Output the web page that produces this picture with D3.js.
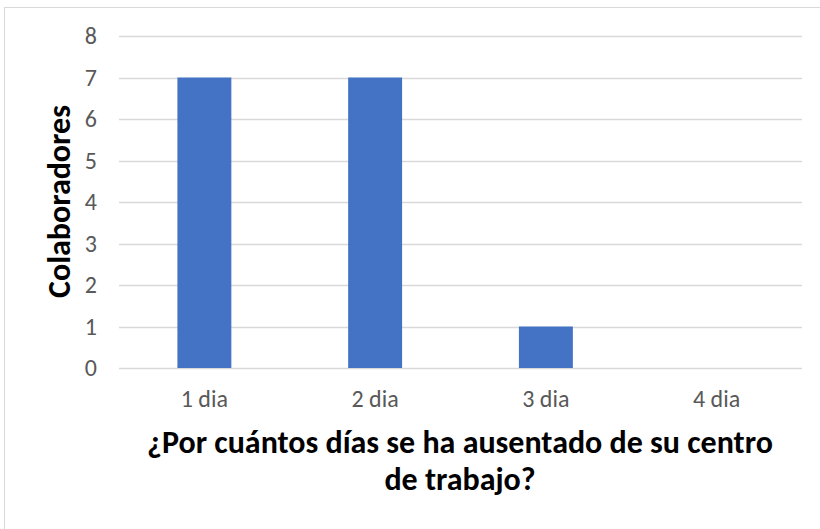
<!DOCTYPE html>
<html>
<head>
<meta charset="utf-8">
<script src="https://cdn.jsdelivr.net/npm/d3@7"></script>
<style>
  body { margin: 0; background: #fff; }
</style>
</head>
<body>
<script>
// chart data
var categories = ["1 dia", "2 dia", "3 dia", "4 dia"];
var values = [7, 7, 1, 0];
var yTicks = [0, 1, 2, 3, 4, 5, 6, 7, 8];
var yTitle = "Colaboradores";
var xTitle = ["¿Por cuántos días se ha ausentado de su centro", "de trabajo?"];

var width = 820;
var height = 529;
var plot = { left: 119, right: 802, top: 36, bottom: 368 };
var font = "Calibri, Carlito, 'Open Sans', sans-serif";

var svg = d3.select('body')
    .append('svg')
    .attr('width', width)
    .attr('height', height);

// outer border of the chart area
svg.append('rect')
    .attr('x', 4.5)
    .attr('y', 7.5)
    .attr('width', width)
    .attr('height', height)
    .attr('fill', 'none')
    .attr('stroke', '#d9d9d9')
    .attr('stroke-width', 1);

var x = d3.scaleBand()
    .domain(categories)
    .range([plot.left, plot.right])
    .paddingInner(0.684)
    .paddingOuter(0.342);

var y = d3.scaleLinear()
    .domain([0, 8])
    .range([plot.bottom, plot.top]);

// gridlines
svg.append('g')
    .selectAll('line')
    .data(yTicks)
    .join('line')
    .attr('x1', plot.left)
    .attr('x2', plot.right)
    .attr('y1', function (d) { return Math.round(y(d)) + 0.5; })
    .attr('y2', function (d) { return Math.round(y(d)) + 0.5; })
    .attr('stroke', '#d9d9d9')
    .attr('stroke-width', 1.3);

// y axis labels
var yAxis = svg.append('g')
    .attr('transform', 'translate(' + (plot.left - 22) + ',0)')
    .call(d3.axisLeft(y).tickValues(yTicks).tickSize(0).tickPadding(0));
yAxis.select('.domain').remove();
yAxis.selectAll('text')
    .attr('font-family', font)
    .attr('font-size', 24)
    .attr('fill', '#595959')
    .attr('dy', '0.33em');

// bars
svg.append('g')
    .selectAll('rect')
    .data(values)
    .join('rect')
    .attr('x', function (d, i) { return x(categories[i]); })
    .attr('y', function (d) { return y(d); })
    .attr('width', x.bandwidth())
    .attr('height', function (d) { return y(0) - y(d); })
    .attr('fill', '#4472c4');

// x axis labels
var xAxis = svg.append('g')
    .attr('transform', 'translate(0,' + (plot.bottom + 39) + ')')
    .call(d3.axisBottom(x).tickSize(0).tickPadding(0));
xAxis.select('.domain').remove();
xAxis.selectAll('text')
    .attr('font-family', font)
    .attr('font-size', 24)
    .attr('fill', '#595959')
    .attr('dy', 0);

// y axis title
svg.append('text')
    .attr('transform', 'translate(70,' + 201.5 + ') rotate(-90)')
    .attr('text-anchor', 'middle')
    .attr('font-family', font)
    .attr('font-weight', 'bold')
    .attr('font-size', 32)
    .attr('fill', '#000')
    .text(yTitle);

// x axis title
svg.append('g')
    .selectAll('text')
    .data(xTitle)
    .join('text')
    .attr('x', 460)
    .attr('y', function (d, i) { return 453 + i * 37; })
    .attr('text-anchor', 'middle')
    .attr('font-family', font)
    .attr('font-weight', 'bold')
    .attr('font-size', 32)
    .attr('fill', '#000')
    .text(function (d) { return d; });
</script>
</body>
</html>
